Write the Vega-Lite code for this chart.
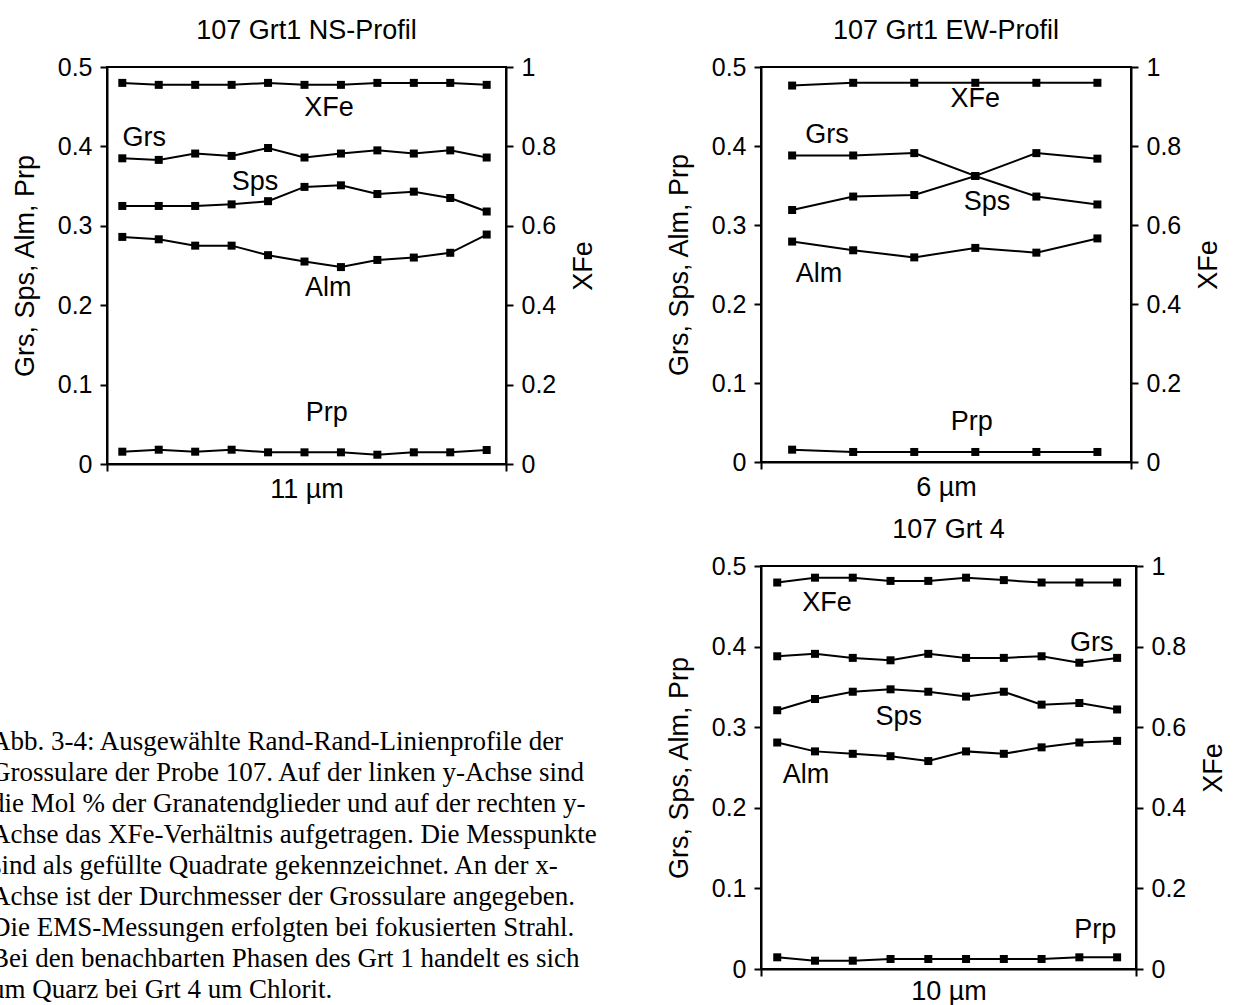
{
  "$schema": "https://vega.github.io/schema/vega-lite/v6.json",
  "padding": {"left": -9, "top": 16, "right": 0, "bottom": 0},
  "background": "white",
  "bounds": "flush",
  "columns": 2,
  "spacing": {"row": 102, "column": 255},
  "datasets": {
    "pts": [
      {"p":"NS","s":"XFe","i":1,"v":0.96},{"p":"NS","s":"XFe","i":2,"v":0.955},{"p":"NS","s":"XFe","i":3,"v":0.955},{"p":"NS","s":"XFe","i":4,"v":0.955},{"p":"NS","s":"XFe","i":5,"v":0.96},{"p":"NS","s":"XFe","i":6,"v":0.955},{"p":"NS","s":"XFe","i":7,"v":0.955},{"p":"NS","s":"XFe","i":8,"v":0.96},{"p":"NS","s":"XFe","i":9,"v":0.96},{"p":"NS","s":"XFe","i":10,"v":0.96},{"p":"NS","s":"XFe","i":11,"v":0.955},
      {"p":"NS","s":"Grs","i":1,"v":0.385},{"p":"NS","s":"Grs","i":2,"v":0.383},{"p":"NS","s":"Grs","i":3,"v":0.391},{"p":"NS","s":"Grs","i":4,"v":0.388},{"p":"NS","s":"Grs","i":5,"v":0.398},{"p":"NS","s":"Grs","i":6,"v":0.386},{"p":"NS","s":"Grs","i":7,"v":0.391},{"p":"NS","s":"Grs","i":8,"v":0.395},{"p":"NS","s":"Grs","i":9,"v":0.391},{"p":"NS","s":"Grs","i":10,"v":0.395},{"p":"NS","s":"Grs","i":11,"v":0.386},
      {"p":"NS","s":"Sps","i":1,"v":0.325},{"p":"NS","s":"Sps","i":2,"v":0.325},{"p":"NS","s":"Sps","i":3,"v":0.325},{"p":"NS","s":"Sps","i":4,"v":0.327},{"p":"NS","s":"Sps","i":5,"v":0.331},{"p":"NS","s":"Sps","i":6,"v":0.349},{"p":"NS","s":"Sps","i":7,"v":0.351},{"p":"NS","s":"Sps","i":8,"v":0.34},{"p":"NS","s":"Sps","i":9,"v":0.343},{"p":"NS","s":"Sps","i":10,"v":0.335},{"p":"NS","s":"Sps","i":11,"v":0.318},
      {"p":"NS","s":"Alm","i":1,"v":0.286},{"p":"NS","s":"Alm","i":2,"v":0.283},{"p":"NS","s":"Alm","i":3,"v":0.275},{"p":"NS","s":"Alm","i":4,"v":0.275},{"p":"NS","s":"Alm","i":5,"v":0.263},{"p":"NS","s":"Alm","i":6,"v":0.255},{"p":"NS","s":"Alm","i":7,"v":0.248},{"p":"NS","s":"Alm","i":8,"v":0.257},{"p":"NS","s":"Alm","i":9,"v":0.26},{"p":"NS","s":"Alm","i":10,"v":0.266},{"p":"NS","s":"Alm","i":11,"v":0.289},
      {"p":"NS","s":"Prp","i":1,"v":0.0155},{"p":"NS","s":"Prp","i":2,"v":0.018},{"p":"NS","s":"Prp","i":3,"v":0.0155},{"p":"NS","s":"Prp","i":4,"v":0.018},{"p":"NS","s":"Prp","i":5,"v":0.0147},{"p":"NS","s":"Prp","i":6,"v":0.0147},{"p":"NS","s":"Prp","i":7,"v":0.0147},{"p":"NS","s":"Prp","i":8,"v":0.0117},{"p":"NS","s":"Prp","i":9,"v":0.0147},{"p":"NS","s":"Prp","i":10,"v":0.0147},{"p":"NS","s":"Prp","i":11,"v":0.0176},
      {"p":"EW","s":"XFe","i":1,"v":0.953},{"p":"EW","s":"XFe","i":2,"v":0.96},{"p":"EW","s":"XFe","i":3,"v":0.96},{"p":"EW","s":"XFe","i":4,"v":0.96},{"p":"EW","s":"XFe","i":5,"v":0.96},{"p":"EW","s":"XFe","i":6,"v":0.96},
      {"p":"EW","s":"Grs","i":1,"v":0.388},{"p":"EW","s":"Grs","i":2,"v":0.388},{"p":"EW","s":"Grs","i":3,"v":0.391},{"p":"EW","s":"Grs","i":4,"v":0.362},{"p":"EW","s":"Grs","i":5,"v":0.391},{"p":"EW","s":"Grs","i":6,"v":0.384},
      {"p":"EW","s":"Sps","i":1,"v":0.319},{"p":"EW","s":"Sps","i":2,"v":0.336},{"p":"EW","s":"Sps","i":3,"v":0.338},{"p":"EW","s":"Sps","i":4,"v":0.362},{"p":"EW","s":"Sps","i":5,"v":0.336},{"p":"EW","s":"Sps","i":6,"v":0.326},
      {"p":"EW","s":"Alm","i":1,"v":0.279},{"p":"EW","s":"Alm","i":2,"v":0.268},{"p":"EW","s":"Alm","i":3,"v":0.259},{"p":"EW","s":"Alm","i":4,"v":0.271},{"p":"EW","s":"Alm","i":5,"v":0.265},{"p":"EW","s":"Alm","i":6,"v":0.283},
      {"p":"EW","s":"Prp","i":1,"v":0.0156},{"p":"EW","s":"Prp","i":2,"v":0.0127},{"p":"EW","s":"Prp","i":3,"v":0.0127},{"p":"EW","s":"Prp","i":4,"v":0.0127},{"p":"EW","s":"Prp","i":5,"v":0.0127},{"p":"EW","s":"Prp","i":6,"v":0.0127},
      {"p":"G4","s":"XFe","i":1,"v":0.959},{"p":"G4","s":"XFe","i":2,"v":0.971},{"p":"G4","s":"XFe","i":3,"v":0.971},{"p":"G4","s":"XFe","i":4,"v":0.963},{"p":"G4","s":"XFe","i":5,"v":0.963},{"p":"G4","s":"XFe","i":6,"v":0.971},{"p":"G4","s":"XFe","i":7,"v":0.965},{"p":"G4","s":"XFe","i":8,"v":0.959},{"p":"G4","s":"XFe","i":9,"v":0.959},{"p":"G4","s":"XFe","i":10,"v":0.959},
      {"p":"G4","s":"Grs","i":1,"v":0.388},{"p":"G4","s":"Grs","i":2,"v":0.391},{"p":"G4","s":"Grs","i":3,"v":0.386},{"p":"G4","s":"Grs","i":4,"v":0.383},{"p":"G4","s":"Grs","i":5,"v":0.391},{"p":"G4","s":"Grs","i":6,"v":0.386},{"p":"G4","s":"Grs","i":7,"v":0.386},{"p":"G4","s":"Grs","i":8,"v":0.388},{"p":"G4","s":"Grs","i":9,"v":0.38},{"p":"G4","s":"Grs","i":10,"v":0.386},
      {"p":"G4","s":"Sps","i":1,"v":0.321},{"p":"G4","s":"Sps","i":2,"v":0.335},{"p":"G4","s":"Sps","i":3,"v":0.344},{"p":"G4","s":"Sps","i":4,"v":0.347},{"p":"G4","s":"Sps","i":5,"v":0.344},{"p":"G4","s":"Sps","i":6,"v":0.338},{"p":"G4","s":"Sps","i":7,"v":0.344},{"p":"G4","s":"Sps","i":8,"v":0.328},{"p":"G4","s":"Sps","i":9,"v":0.33},{"p":"G4","s":"Sps","i":10,"v":0.322},
      {"p":"G4","s":"Alm","i":1,"v":0.281},{"p":"G4","s":"Alm","i":2,"v":0.27},{"p":"G4","s":"Alm","i":3,"v":0.267},{"p":"G4","s":"Alm","i":4,"v":0.264},{"p":"G4","s":"Alm","i":5,"v":0.258},{"p":"G4","s":"Alm","i":6,"v":0.27},{"p":"G4","s":"Alm","i":7,"v":0.267},{"p":"G4","s":"Alm","i":8,"v":0.275},{"p":"G4","s":"Alm","i":9,"v":0.281},{"p":"G4","s":"Alm","i":10,"v":0.283},
      {"p":"G4","s":"Prp","i":1,"v":0.0145},{"p":"G4","s":"Prp","i":2,"v":0.0103},{"p":"G4","s":"Prp","i":3,"v":0.0103},{"p":"G4","s":"Prp","i":4,"v":0.0124},{"p":"G4","s":"Prp","i":5,"v":0.0124},{"p":"G4","s":"Prp","i":6,"v":0.0124},{"p":"G4","s":"Prp","i":7,"v":0.0124},{"p":"G4","s":"Prp","i":8,"v":0.0124},{"p":"G4","s":"Prp","i":9,"v":0.0145},{"p":"G4","s":"Prp","i":10,"v":0.0145}
    ],
    "labs": [
      {"p":"NS","s":"XFe","i":6.67,"v":0.4387},{"p":"NS","s":"Grs","i":1.6,"v":0.4},{"p":"NS","s":"Sps","i":4.64,"v":0.3455},{"p":"NS","s":"Alm","i":6.65,"v":0.211},{"p":"NS","s":"Prp","i":6.61,"v":0.0546},
      {"p":"EW","s":"XFe","i":4.0,"v":0.449},{"p":"EW","s":"Grs","i":1.57,"v":0.404},{"p":"EW","s":"Sps","i":4.19,"v":0.319},{"p":"EW","s":"Alm","i":1.44,"v":0.228},{"p":"EW","s":"Prp","i":3.94,"v":0.041},
      {"p":"G4","s":"XFe","i":2.32,"v":0.4446},{"p":"G4","s":"Grs","i":9.33,"v":0.395},{"p":"G4","s":"Sps","i":4.22,"v":0.303},{"p":"G4","s":"Alm","i":1.76,"v":0.2308},{"p":"G4","s":"Prp","i":9.42,"v":0.0385}
    ],
    "caption": [
      {"n":1,"t":"Abb. 3-4: Ausgewählte Rand-Rand-Linienprofile der"},
      {"n":2,"t":"Grossulare der Probe 107. Auf der linken y-Achse sind"},
      {"n":3,"t":"die Mol % der Granatendglieder und auf der rechten y-"},
      {"n":4,"t":"Achse das XFe-Verhältnis aufgetragen. Die Messpunkte"},
      {"n":5,"t":"sind als gefüllte Quadrate gekennzeichnet. An der x-"},
      {"n":6,"t":"Achse ist der Durchmesser der Grossulare angegeben."},
      {"n":7,"t":"Die EMS-Messungen erfolgten bei fokusierten Strahl."},
      {"n":8,"t":"Bei den benachbarten Phasen des Grt 1 handelt es sich"},
      {"n":9,"t":"um Quarz bei Grt 4 um Chlorit."}
    ]
  },
  "concat": [
    {
      "title": {"text": "107 Grt1 NS-Profil"},
      "width": 399, "height": 397,
      "view": {"stroke": "black", "strokeWidth": 2},
      "layer": [
        {
          "layer": [
            {"data": {"name": "pts"}, "transform": [{"filter": "datum.p === 'NS' && datum.s !== 'XFe'"}],
             "mark": {"type": "line", "color": "black", "strokeWidth": 2},
             "encoding": {
               "x": {"field": "i", "type": "quantitative", "scale": {"domain": [0.58, 11.53], "zero": false}, "axis": {"title": "11 µm", "values": [0.58, 11.53], "labels": false, "titlePadding": 4}},
               "y": {"field": "v", "type": "quantitative", "scale": {"domain": [0, 0.5]}, "axis": {"title": "Grs, Sps, Alm, Prp", "orient": "left", "values": [0, 0.1, 0.2, 0.3, 0.4, 0.5], "format": "~g"}},
               "detail": {"field": "s"}}},
            {"data": {"name": "pts"}, "transform": [{"filter": "datum.p === 'NS' && datum.s !== 'XFe'"}],
             "mark": {"type": "point", "shape": "square", "filled": true, "size": 64, "color": "black", "opacity": 1},
             "encoding": {"x": {"field": "i", "type": "quantitative", "scale": {"domain": [0.58, 11.53], "zero": false}}, "y": {"field": "v", "type": "quantitative", "scale": {"domain": [0, 0.5]}}}},
            {"data": {"name": "labs"}, "transform": [{"filter": "datum.p === 'NS'"}],
             "mark": {"type": "text", "align": "center", "baseline": "alphabetic", "fontSize": 27, "font": "Liberation Sans", "color": "black"},
             "encoding": {"x": {"field": "i", "type": "quantitative", "scale": {"domain": [0.58, 11.53], "zero": false}}, "y": {"field": "v", "type": "quantitative", "scale": {"domain": [0, 0.5]}}, "text": {"field": "s"}}}
          ]
        },
        {
          "data": {"name": "pts"}, "transform": [{"filter": "datum.p === 'NS' && datum.s === 'XFe'"}],
          "encoding": {
            "x": {"field": "i", "type": "quantitative", "scale": {"domain": [0.58, 11.53], "zero": false}},
            "y": {"field": "v", "type": "quantitative", "scale": {"domain": [0, 1]}, "axis": {"title": "XFe", "orient": "right", "values": [0, 0.2, 0.4, 0.6, 0.8, 1], "format": "~g", "titleAngle": 270, "titlePadding": 42}}},
          "layer": [
            {"mark": {"type": "line", "color": "black", "strokeWidth": 2}},
            {"mark": {"type": "point", "shape": "square", "filled": true, "size": 64, "color": "black", "opacity": 1}}
          ]
        }
      ],
      "resolve": {"scale": {"y": "independent"}}
    },
    {
      "title": {"text": "107 Grt1 EW-Profil"},
      "width": 370, "height": 395,
      "view": {"stroke": "black", "strokeWidth": 2},
      "layer": [
        {
          "layer": [
            {"data": {"name": "pts"}, "transform": [{"filter": "datum.p === 'EW' && datum.s !== 'XFe'"}],
             "mark": {"type": "line", "color": "black", "strokeWidth": 2},
             "encoding": {
               "x": {"field": "i", "type": "quantitative", "scale": {"domain": [0.49, 6.55], "zero": false}, "axis": {"title": "6 µm", "values": [0.49, 6.55], "labels": false, "titlePadding": 4}},
               "y": {"field": "v", "type": "quantitative", "scale": {"domain": [0, 0.5]}, "axis": {"title": "Grs, Sps, Alm, Prp", "orient": "left", "values": [0, 0.1, 0.2, 0.3, 0.4, 0.5], "format": "~g"}},
               "detail": {"field": "s"}}},
            {"data": {"name": "pts"}, "transform": [{"filter": "datum.p === 'EW' && datum.s !== 'XFe'"}],
             "mark": {"type": "point", "shape": "square", "filled": true, "size": 64, "color": "black", "opacity": 1},
             "encoding": {"x": {"field": "i", "type": "quantitative", "scale": {"domain": [0.49, 6.55], "zero": false}}, "y": {"field": "v", "type": "quantitative", "scale": {"domain": [0, 0.5]}}}},
            {"data": {"name": "labs"}, "transform": [{"filter": "datum.p === 'EW'"}],
             "mark": {"type": "text", "align": "center", "baseline": "alphabetic", "fontSize": 27, "font": "Liberation Sans", "color": "black"},
             "encoding": {"x": {"field": "i", "type": "quantitative", "scale": {"domain": [0.49, 6.55], "zero": false}}, "y": {"field": "v", "type": "quantitative", "scale": {"domain": [0, 0.5]}}, "text": {"field": "s"}}}
          ]
        },
        {
          "data": {"name": "pts"}, "transform": [{"filter": "datum.p === 'EW' && datum.s === 'XFe'"}],
          "encoding": {
            "x": {"field": "i", "type": "quantitative", "scale": {"domain": [0.49, 6.55], "zero": false}},
            "y": {"field": "v", "type": "quantitative", "scale": {"domain": [0, 1]}, "axis": {"title": "XFe", "orient": "right", "values": [0, 0.2, 0.4, 0.6, 0.8, 1], "format": "~g", "titleAngle": 270, "titlePadding": 42}}},
          "layer": [
            {"mark": {"type": "line", "color": "black", "strokeWidth": 2}},
            {"mark": {"type": "point", "shape": "square", "filled": true, "size": 64, "color": "black", "opacity": 1}}
          ]
        }
      ],
      "resolve": {"scale": {"y": "independent"}}
    },
    {
      "width": 399, "height": 403,
      "view": {"stroke": null},
      "data": {"name": "caption"},
      "mark": {"type": "text", "align": "left", "baseline": "middle", "font": "Liberation Serif", "fontSize": 27, "color": "black"},
      "encoding": {
        "y": {"field": "n", "type": "quantitative", "scale": {"domain": [-4.68, 8.32], "reverse": true, "zero": false}, "axis": null},
        "x": {"value": -116},
        "text": {"field": "t"}
      }
    },
    {
      "title": {"text": "107 Grt 4"},
      "width": 375, "height": 403,
      "view": {"stroke": "black", "strokeWidth": 2},
      "layer": [
        {
          "layer": [
            {"data": {"name": "pts"}, "transform": [{"filter": "datum.p === 'G4' && datum.s !== 'XFe'"}],
             "mark": {"type": "line", "color": "black", "strokeWidth": 2},
             "encoding": {
               "x": {"field": "i", "type": "quantitative", "scale": {"domain": [0.57, 10.5], "zero": false}, "axis": {"title": "10 µm", "values": [0.57, 10.5], "labels": false, "titlePadding": 1}},
               "y": {"field": "v", "type": "quantitative", "scale": {"domain": [0, 0.5]}, "axis": {"title": "Grs, Sps, Alm, Prp", "orient": "left", "values": [0, 0.1, 0.2, 0.3, 0.4, 0.5], "format": "~g"}},
               "detail": {"field": "s"}}},
            {"data": {"name": "pts"}, "transform": [{"filter": "datum.p === 'G4' && datum.s !== 'XFe'"}],
             "mark": {"type": "point", "shape": "square", "filled": true, "size": 64, "color": "black", "opacity": 1},
             "encoding": {"x": {"field": "i", "type": "quantitative", "scale": {"domain": [0.57, 10.5], "zero": false}}, "y": {"field": "v", "type": "quantitative", "scale": {"domain": [0, 0.5]}}}},
            {"data": {"name": "labs"}, "transform": [{"filter": "datum.p === 'G4'"}],
             "mark": {"type": "text", "align": "center", "baseline": "alphabetic", "fontSize": 27, "font": "Liberation Sans", "color": "black"},
             "encoding": {"x": {"field": "i", "type": "quantitative", "scale": {"domain": [0.57, 10.5], "zero": false}}, "y": {"field": "v", "type": "quantitative", "scale": {"domain": [0, 0.5]}}, "text": {"field": "s"}}}
          ]
        },
        {
          "data": {"name": "pts"}, "transform": [{"filter": "datum.p === 'G4' && datum.s === 'XFe'"}],
          "encoding": {
            "x": {"field": "i", "type": "quantitative", "scale": {"domain": [0.57, 10.5], "zero": false}},
            "y": {"field": "v", "type": "quantitative", "scale": {"domain": [0, 1]}, "axis": {"title": "XFe", "orient": "right", "values": [0, 0.2, 0.4, 0.6, 0.8, 1], "format": "~g", "titleAngle": 270, "titlePadding": 42}}},
          "layer": [
            {"mark": {"type": "line", "color": "black", "strokeWidth": 2}},
            {"mark": {"type": "point", "shape": "square", "filled": true, "size": 64, "color": "black", "opacity": 1}}
          ]
        }
      ],
      "resolve": {"scale": {"y": "independent"}}
    }
  ],
  "config": {
    "font": "Liberation Sans",
    "view": {"stroke": null},
    "axis": {"domainColor": "black", "domainWidth": 2, "tickColor": "black", "tickWidth": 2, "tickSize": 7, "labelFontSize": 25, "labelColor": "black", "labelFont": "Liberation Sans", "titleFont": "Liberation Sans", "titleFontSize": 27, "titleFontWeight": "normal", "titleColor": "black", "grid": false, "labelPadding": 8},
    "axisY": {"titlePadding": 18},
    "title": {"fontSize": 27, "fontWeight": "normal", "color": "black", "font": "Liberation Sans", "offset": 10}
  }
}
